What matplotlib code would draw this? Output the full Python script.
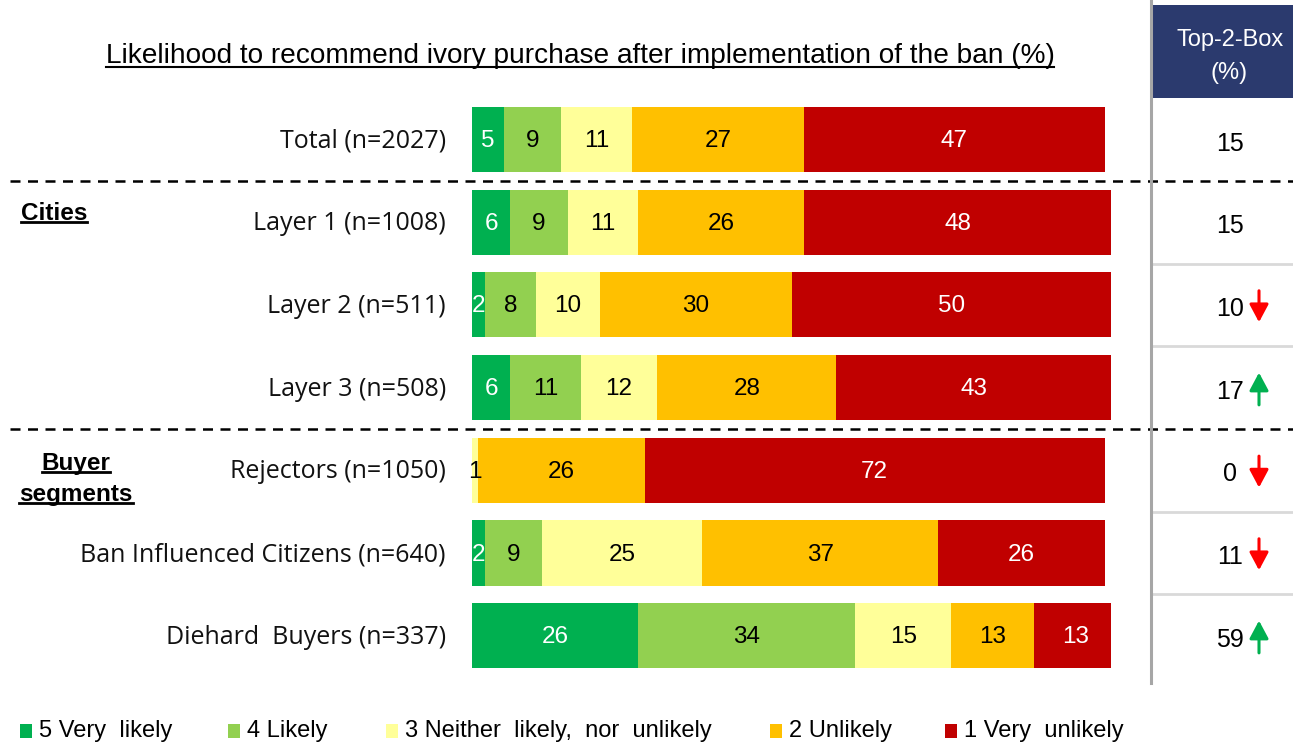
import matplotlib
matplotlib.use("Agg")
import matplotlib.pyplot as plt
from matplotlib.transforms import blended_transform_factory
from matplotlib.patches import Rectangle, FancyArrowPatch
from matplotlib.lines import Line2D

W, H, DPI = 1293, 744, 100

# ---- data -------------------------------------------------------------
rows = ["Total (n=2027)", "Layer 1 (n=1008)", "Layer 2 (n=511)", "Layer 3 (n=508)",
        "Rejectors (n=1050)", "Ban Influenced Citizens (n=640)", "Diehard  Buyers (n=337)"]
very_likely = [5, 6, 2, 6, 0, 2, 26]
likely = [9, 9, 8, 11, 0, 9, 34]
neither = [11, 11, 10, 12, 1, 25, 15]
unlikely = [27, 26, 30, 28, 26, 37, 13]
very_unlikely = [47, 48, 50, 43, 72, 26, 13]
top2box = [15, 15, 10, 17, 0, 11, 59]
trend = [0, 0, -1, 1, -1, -1, 1]  # +1 up arrow, -1 down arrow

series = [very_likely, likely, neither, unlikely, very_unlikely]
legend_labels = ["5 Very  likely", "4 Likely", "3 Neither  likely,  nor  unlikely",
                 "2 Unlikely", "1 Very  unlikely"]
colors = ["#00B050", "#92D050", "#FFFF99", "#FFC000", "#C00000"]
text_colors = ["white", "black", "black", "black", "white"]

# ---- figure -----------------------------------------------------------
fig = plt.figure(figsize=(W / DPI, H / DPI), dpi=DPI)
fig.patch.set_facecolor("white")

def fx(px):
    return px / W

def fy(py):
    return 1 - py / H

ax_top, ax_bot = 100, 680
ax = fig.add_axes([fx(472), fy(ax_bot), 639 / W, (ax_bot - ax_top) / H])
ax.set_xlim(0, 100)
row_px = 82.67
first_center = 139.5
ax.set_ylim((ax_bot - first_center) / row_px, (ax_top - first_center) / row_px)
ax.axis("off")

font = "Liberation Sans"
label_font = "Open Sans"

ypos = list(range(len(rows)))
left = [0] * len(rows)
for vals, col, tcol in zip(series, colors, text_colors):
    ax.barh(ypos, vals, left=left, height=0.79, color=col, edgecolor="none")
    for i, v in enumerate(vals):
        if v > 0:
            ax.text(left[i] + v / 2, i + 0.02, f"{v}", ha="center", va="center",
                    fontsize=17.5, color=tcol, family=font)
    left = [l + v for l, v in zip(left, vals)]

tr = blended_transform_factory(fig.transFigure, ax.transData)

# row labels
for i, lab in enumerate(rows):
    ax.text(fx(446), i + 0.02, lab, transform=tr, ha="right", va="center",
            fontsize=18, family=label_font, color="#111111")

# dashed separators
for yb in (0.5, 3.5):
    ax.add_line(Line2D([fx(10), fx(1293)], [yb, yb], transform=tr, color="black",
                       lw=1.8, ls=(0, (4, 3)), clip_on=False))

# Top-2-Box column
fig.add_artist(Line2D([fx(1151), fx(1151)], [fy(683), fy(0)], color="#A6A6A6", lw=2.2))
fig.add_artist(Rectangle((fx(1152), fy(98)), fx(1293) - fx(1152), fy(5) - fy(98),
                         facecolor="#2B3A6E", edgecolor="none"))
fig.text(fx(1230), fy(40), "Top-2-Box", ha="center", va="center", color="white",
         fontsize=17, family=font)
fig.text(fx(1229), fy(73), "(%)", ha="center", va="center", color="white",
         fontsize=17, family=font)
for yb in (1.5, 2.5, 4.5, 5.5):
    ax.add_line(Line2D([fx(1153), fx(1293)], [yb, yb], transform=tr, color="#D9D9D9",
                       lw=2, clip_on=False))
for i, (v, t) in enumerate(zip(top2box, trend)):
    ax.text(fx(1230), i + 0.05, f"{v}", transform=tr, ha="center", va="center",
            fontsize=18, family=font, color="black")
    if t != 0:
        c = "#FF0000" if t < 0 else "#00B050"
        y0, y1 = (i - 0.17, i + 0.21) if t < 0 else (i + 0.21, i - 0.18)
        ax.add_patch(FancyArrowPatch((fx(1259), y0), (fx(1259), y1), transform=tr,
                                     arrowstyle="-|>,head_length=0.9,head_width=0.48",
                                     mutation_scale=12, color=c, lw=2.2,
                                     shrinkA=0, shrinkB=0, clip_on=False))

# title and group headings
title = fig.text(fx(580), fy(56), "Likelihood to recommend ivory purchase after implementation of the ban (%)",
                 ha="center", va="center", fontsize=20.2, family=font, color="black")
cities = ax.text(fx(54), 0.9, "Cities", transform=tr, ha="center", va="center",
                 fontsize=17.5, fontweight="bold", family=font)
buyer1 = ax.text(fx(76), 3.92, "Buyer", transform=tr, ha="center", va="center",
                 fontsize=17.5, fontweight="bold", family=font)
buyer2 = ax.text(fx(76), 4.3, "segments", transform=tr, ha="center", va="center",
                 fontsize=17.5, fontweight="bold", family=font)

# legend row
leg_sq = [20, 228, 386, 770, 945]
for xs, lab, col in zip(leg_sq, legend_labels, colors):
    fig.add_artist(Rectangle((fx(xs), fy(738)), 12 / W, 14 / H, facecolor=col, edgecolor="none"))
    fig.text(fx(xs + 19), fy(731), lab, ha="left", va="center", fontsize=17,
             family=font, color="black")

# underline the title and headings
fig.canvas.draw()
renderer = fig.canvas.get_renderer()
for t, off, lw in ((title, 2, 1.5), (cities, 3, 2), (buyer1, 3, 2), (buyer2, 3, 2)):
    bb = t.get_window_extent(renderer)
    yline = (bb.y0 + off) / H
    fig.add_artist(Line2D([bb.x0 / W, bb.x1 / W], [yline, yline], color="black", lw=lw))

fig.savefig("out.png", dpi=DPI, facecolor="white")
